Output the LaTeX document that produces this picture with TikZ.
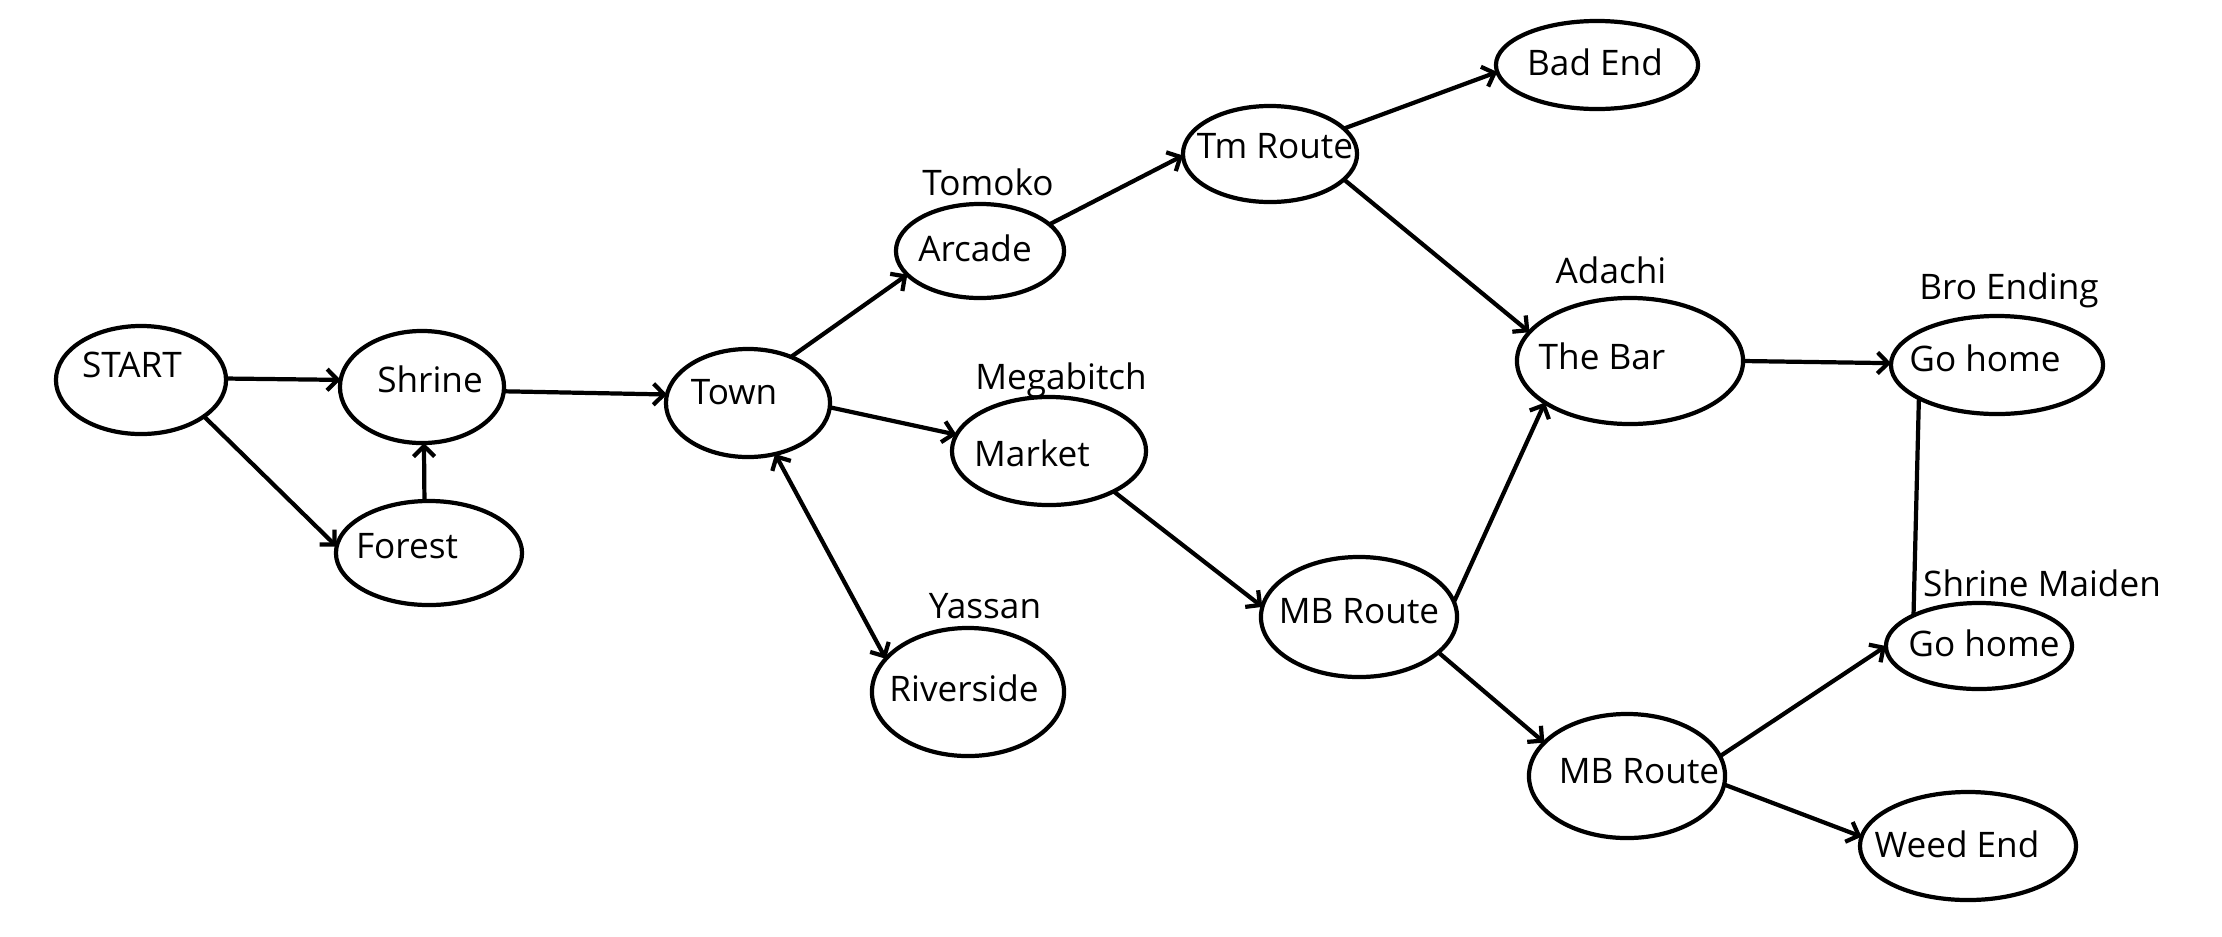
\documentclass[tikz,border=0pt]{standalone}
\usepackage{fontspec}
\setmainfont{Open Sans}
\usetikzlibrary{arrows.meta,shapes.geometric}
\begin{document}
\begin{tikzpicture}[x=0.01cm,y=-0.01cm,
  place/.style={draw, ellipse, line width=1.2pt, inner sep=0pt, outer sep=0pt},
  lbl/.style={anchor=base, font=\fontsize{10}{12}\selectfont, inner sep=0pt},
  link/.style={line width=1.2pt, -{Straight Barb[length=3pt,width=6pt]}},
  plain/.style={line width=1.2pt}]
\useasboundingbox (0,0) rectangle (2222,936);

% places
\node[place, minimum width=1.70cm, minimum height=1.08cm] (start) at (141,380) {};
\node[place, minimum width=1.64cm, minimum height=1.12cm] (shrine) at (422,387) {};
\node[place, minimum width=1.86cm, minimum height=1.04cm] (forest) at (429,553) {};
\node[place, minimum width=1.64cm, minimum height=1.08cm] (town) at (748,403) {};
\node[place, minimum width=1.68cm, minimum height=0.94cm] (arcade) at (980,251) {};
\node[place, minimum width=1.94cm, minimum height=1.08cm] (market) at (1049,451) {};
\node[place, minimum width=1.92cm, minimum height=1.28cm] (river) at (968,692) {};
\node[place, minimum width=1.74cm, minimum height=0.96cm] (tm) at (1270,154) {};
\node[place, minimum width=2.02cm, minimum height=0.88cm] (bad) at (1597,65) {};
\node[place, minimum width=2.26cm, minimum height=1.26cm] (bar) at (1630,361) {};
\node[place, minimum width=1.96cm, minimum height=1.20cm] (mbA) at (1359,617) {};
\node[place, minimum width=1.96cm, minimum height=1.24cm] (mbB) at (1627,776) {};
\node[place, minimum width=2.12cm, minimum height=0.98cm] (homeA) at (1997,365) {};
\node[place, minimum width=1.86cm, minimum height=0.86cm] (homeB) at (1979,646) {};
\node[place, minimum width=2.16cm, minimum height=1.08cm] (weed) at (1968,846) {};

% texts inside the places
\node[lbl] (startT) at (132,377) {START};
\node[lbl] (shrineT) at (430,392) {Shrine};
\node[lbl] (forestT) at (407,558) {Forest};
\node[lbl] (townT) at (734,404) {Town};
\node[lbl] (arcadeT) at (975,261) {Arcade};
\node[lbl] (marketT) at (1032,466) {Market};
\node[lbl] (riverT) at (964,701) {Riverside};
\node[lbl] (tmT) at (1275,158) {Tm Route};
\node[lbl] (badT) at (1595,75) {Bad End};
\node[lbl] (barT) at (1602,369) {The Bar};
\node[lbl] (mbAT) at (1359,623) {MB Route};
\node[lbl] (mbBT) at (1639,783) {MB Route};
\node[lbl] (homeAT) at (1985,371) {Go home};
\node[lbl] (homeBT) at (1984,656) {Go home};
\node[lbl] (weedT) at (1957,857) {Weed End};

% character names above the places
\node[lbl] (tomoko) at (988,195) {Tomoko};
\node[lbl] (mega) at (1061,389) {Megabitch};
\node[lbl] (yassan) at (985,618) {Yassan};
\node[lbl] (adachi) at (1611,283) {Adachi};
\node[lbl] (bro) at (2009,299) {Bro Ending};
\node[lbl] (maiden) at (2042,596) {Shrine Maiden};

% connectors
\draw[link] (start.1.3) -- (shrine.175);
\draw[link] (start.-30) -- (forest.176);
\draw[link] (forest.95) -- (shrine.-88);
\draw[link] (shrine.-3.5) -- (town.174);
\draw[link] (town.47) -- (arcade.-162);
\draw[link] (town.-3.4) -- (market.170);
\draw[line width=1.2pt, {Straight Barb[length=3pt,width=6pt]}-{Straight Barb[length=3pt,width=6pt]}] (town.-62) -- (river.158);
\draw[link] (arcade.21) -- (tm.181);
\draw[link] (market.-32.5) -- (mbA.174);
\draw[link] (tm.19) -- (bad.-176);
\draw[link] (tm.-19) -- (bar.164);
\draw[link] (mbA.9) -- (bar.-154);
\draw[link] (mbA.-24) -- (mbB.158);
\draw[link] (bar.0.5) -- (homeA.179.5);
\draw[plain] (homeA.-157.5) -- (homeB.155);
\draw[link] (mbB.12.5) -- (homeB.180.6);
\draw[link] (mbB.-5.2) -- (weed.175.6);
\end{tikzpicture}
\end{document}
